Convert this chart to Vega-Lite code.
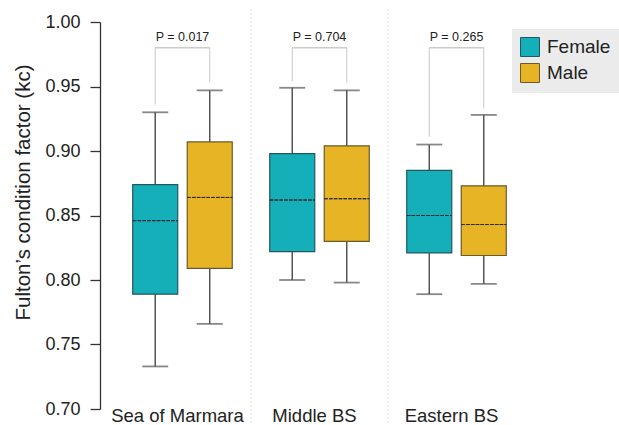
{
  "$schema": "https://vega.github.io/schema/vega-lite/v6.json",
  "width": 439,
  "height": 387,
  "autosize": "none",
  "padding": {"left": 100, "top": 22, "right": 80, "bottom": 16},
  "background": "white",
  "config": {
    "view": {"stroke": null},
    "font": "Liberation Sans",
    "axisX": {"title": null, "domain": false, "ticks": false, "tickSize": 0, "labelPadding": -3, "labelOffset": -5, "labelFontSize": 18.5, "labelColor": "#222", "labelAngle": 0, "grid": false},
    "axisY": {
      "labelPadding": 10, "labelFontSize": 18, "labelColor": "#222", "labelOverlap": false, "labelFlush": false,
      "grid": false, "domainColor": "#333", "domainWidth": 1.3, "tickColor": "#333", "tickWidth": 1.3,
      "titleFontSize": 20.5, "titleFontWeight": "normal", "titleColor": "#222", "titlePadding": 11, "titleY": 170
    }
  },
  "datasets": {
    "boxes": [
      {"site": "Sea of Marmara", "sex": "Female", "lo": 0.733, "q1": 0.789, "med": 0.846, "q3": 0.874, "hi": 0.930},
      {"site": "Sea of Marmara", "sex": "Male", "lo": 0.766, "q1": 0.809, "med": 0.864, "q3": 0.907, "hi": 0.947},
      {"site": "Middle BS", "sex": "Female", "lo": 0.800, "q1": 0.822, "med": 0.862, "q3": 0.898, "hi": 0.949},
      {"site": "Middle BS", "sex": "Male", "lo": 0.798, "q1": 0.830, "med": 0.863, "q3": 0.904, "hi": 0.947},
      {"site": "Eastern BS", "sex": "Female", "lo": 0.789, "q1": 0.821, "med": 0.850, "q3": 0.885, "hi": 0.905},
      {"site": "Eastern BS", "sex": "Male", "lo": 0.797, "q1": 0.819, "med": 0.843, "q3": 0.873, "hi": 0.928}
    ],
    "brackets": [
      {"site": "Sea of Marmara", "label": "P = 0.017", "top": 0.980},
      {"site": "Middle BS", "label": "P = 0.704", "top": 0.980},
      {"site": "Eastern BS", "label": "P = 0.265", "top": 0.980}
    ],
    "legs": [
      {"site": "Sea of Marmara", "sex": "Female", "top": 0.980, "end": 0.936},
      {"site": "Sea of Marmara", "sex": "Male", "top": 0.980, "end": 0.953},
      {"site": "Middle BS", "sex": "Female", "top": 0.980, "end": 0.954},
      {"site": "Middle BS", "sex": "Male", "top": 0.980, "end": 0.953},
      {"site": "Eastern BS", "sex": "Female", "top": 0.980, "end": 0.911},
      {"site": "Eastern BS", "sex": "Male", "top": 0.980, "end": 0.933}
    ],
    "seps": [
      {"site": "Middle BS"},
      {"site": "Eastern BS"}
    ]
  },
  "layer": [
    {
      "data": {"name": "seps"},
      "mark": {"type": "rule", "color": "#dcdcdc", "strokeWidth": 1.2, "strokeDash": [1.5, 2.5]},
      "encoding": {
        "x": {
          "field": "site", "type": "nominal", "bandPosition": 0,
          "sort": ["Sea of Marmara", "Middle BS", "Eastern BS"],
          "scale": {"domain": ["Sea of Marmara", "Middle BS", "Eastern BS"], "paddingInner": 0, "paddingOuter": 0.102},
          "title": null
        },
        "y": {
          "datum": 1.01, "type": "quantitative",
          "scale": {"domain": [0.7, 1.0], "nice": false, "zero": false},
          "title": "Fulton’s condition factor (kc)",
          "axis": {
            "values": [0.7, 0.725, 0.75, 0.775, 0.8, 0.825, 0.85, 0.875, 0.9, 0.925, 0.95, 0.975, 1.0],
            "labelExpr": "round(datum.value*1000) % 50 === 0 ? format(datum.value, '.2f') : ''",
            "tickSize": {"condition": {"test": "round(datum.value*1000) % 50 === 0", "value": 10}, "value": 5}
          }
        },
        "y2": {"datum": 0.688}
      }
    },
    {
      "data": {"name": "legs"},
      "mark": {"type": "rule", "color": "#c8c8c8", "strokeWidth": 1},
      "encoding": {
        "x": {"field": "site", "type": "nominal", "sort": ["Sea of Marmara", "Middle BS", "Eastern BS"], "title": null},
        "xOffset": {"field": "sex", "type": "nominal", "scale": {"domain": ["Female", "Male"], "paddingInner": 0.174, "paddingOuter": 0.344}},
        "y": {"field": "top", "type": "quantitative", "title": "Fulton’s condition factor (kc)"},
        "y2": {"field": "end"}
      }
    },
    {
      "data": {"name": "brackets"},
      "mark": {"type": "bar", "fillOpacity": 0, "stroke": "#c8c8c8", "strokeWidth": 1, "width": {"band": 0.398}},
      "encoding": {
        "x": {"field": "site", "type": "nominal", "sort": ["Sea of Marmara", "Middle BS", "Eastern BS"], "title": null},
        "y": {"field": "top", "type": "quantitative", "title": "Fulton’s condition factor (kc)"},
        "y2": {"field": "top"}
      }
    },
    {
      "data": {"name": "brackets"},
      "mark": {"type": "text", "baseline": "bottom", "dy": -4, "fontSize": 12.5, "color": "#222"},
      "encoding": {
        "x": {"field": "site", "type": "nominal", "sort": ["Sea of Marmara", "Middle BS", "Eastern BS"], "title": null},
        "y": {"field": "top", "type": "quantitative", "title": "Fulton’s condition factor (kc)"},
        "text": {"field": "label"}
      }
    },
    {
      "data": {"name": "boxes"},
      "mark": {"type": "rule", "color": "#555555", "strokeWidth": 1.5},
      "encoding": {
        "x": {"field": "site", "type": "nominal", "sort": ["Sea of Marmara", "Middle BS", "Eastern BS"], "title": null},
        "xOffset": {"field": "sex", "type": "nominal"},
        "y": {"field": "lo", "type": "quantitative", "title": "Fulton’s condition factor (kc)"},
        "y2": {"field": "hi"}
      }
    },
    {
      "data": {"name": "boxes"},
      "mark": {"type": "tick", "orient": "horizontal", "size": 26, "thickness": 1.8, "color": "#555555"},
      "encoding": {
        "x": {"field": "site", "type": "nominal", "sort": ["Sea of Marmara", "Middle BS", "Eastern BS"], "title": null},
        "xOffset": {"field": "sex", "type": "nominal"},
        "y": {"field": "lo", "type": "quantitative", "title": "Fulton’s condition factor (kc)"}
      }
    },
    {
      "data": {"name": "boxes"},
      "mark": {"type": "tick", "orient": "horizontal", "size": 26, "thickness": 1.8, "color": "#555555"},
      "encoding": {
        "x": {"field": "site", "type": "nominal", "sort": ["Sea of Marmara", "Middle BS", "Eastern BS"], "title": null},
        "xOffset": {"field": "sex", "type": "nominal"},
        "y": {"field": "hi", "type": "quantitative", "title": "Fulton’s condition factor (kc)"}
      }
    },
    {
      "data": {"name": "boxes"},
      "mark": {"type": "bar", "strokeWidth": 1.2},
      "encoding": {
        "x": {"field": "site", "type": "nominal", "sort": ["Sea of Marmara", "Middle BS", "Eastern BS"], "title": null},
        "xOffset": {"field": "sex", "type": "nominal"},
        "y": {"field": "q1", "type": "quantitative", "title": "Fulton’s condition factor (kc)"},
        "y2": {"field": "q3"},
        "color": {
          "field": "sex", "type": "nominal",
          "scale": {"domain": ["Female", "Male"], "range": ["#14AFB9", "#E6B425"]},
          "legend": {
            "title": null, "orient": "none", "legendX": 412, "legendY": 7,
            "fillColor": "#EBEBEB", "padding": 8,
            "symbolType": "square", "symbolSize": 361,
            "symbolStrokeColor": "#444", "symbolStrokeWidth": 1,
            "labelFontSize": 19, "labelOffset": 7, "rowPadding": 2, "labelColor": "#222"
          }
        },
        "stroke": {
          "field": "sex", "type": "nominal",
          "scale": {"domain": ["Female", "Male"], "range": ["#24585f", "#6b5a2e"]},
          "legend": null
        }
      }
    },
    {
      "data": {"name": "boxes"},
      "mark": {"type": "bar", "fillOpacity": 0, "stroke": "#2b2b2b", "strokeWidth": 1, "strokeDash": [3.6, 1.2]},
      "encoding": {
        "x": {"field": "site", "type": "nominal", "sort": ["Sea of Marmara", "Middle BS", "Eastern BS"], "title": null},
        "xOffset": {"field": "sex", "type": "nominal"},
        "y": {"field": "med", "type": "quantitative", "title": "Fulton’s condition factor (kc)"},
        "y2": {"field": "med"}
      }
    }
  ]
}
